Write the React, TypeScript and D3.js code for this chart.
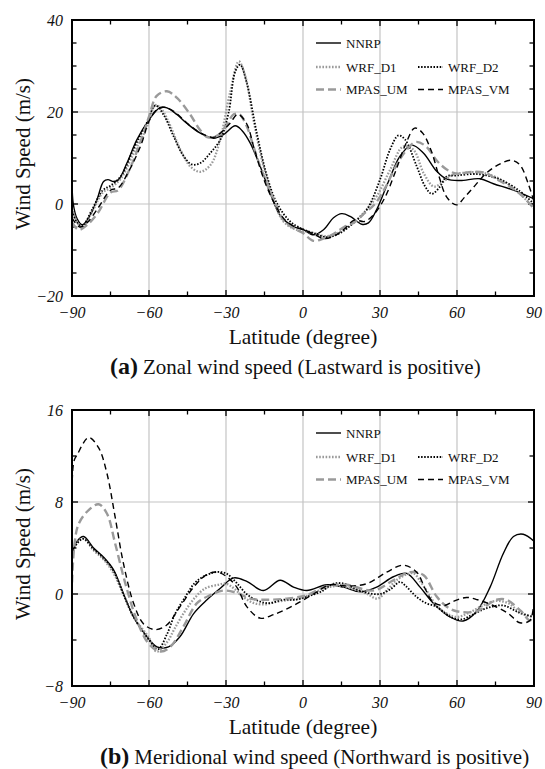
import React from "react";
import * as d3 from "d3";

type Pt = [number, number];

// ---- Zonal wind (panel a) : [latitude, m/s]
const zonalNNRP: Pt[] = [[-90,5],[-89.5,0],[-88,-3.2],[-86,-4.5],[-83,-2.5],[-80.3,0.9],[-77.7,4.9],[-76,5.3],[-73.8,4.9],[-71.8,5.3],[-68.6,8.9],[-64.7,14],[-60,18.3],[-55.6,21],[-53,20.9],[-49,19.4],[-45.2,17.5],[-40,15.4],[-34.8,14.3],[-31,15.1],[-26.4,17],[-23.8,16],[-20.6,13.3],[-16.7,8.2],[-12.8,2.4],[-8.9,-2.5],[-3.7,-4.9],[0.2,-5.6],[4.1,-6.7],[8,-5.6],[11.9,-3],[15.1,-2.1],[18.4,-2.7],[22.9,-4.4],[25.5,-4.1],[28.7,-1.2],[33.3,4.9],[37.8,10.4],[42.4,12.8],[46.9,11.1],[52.1,7.1],[56,5.4],[61.2,5.1],[69,5.5],[74.2,4.4],[82,3],[90,1.1]];
const zonalWRFD1: Pt[] = [[-90,-1],[-88,-4],[-86,-5],[-82,-1.5],[-78,2.5],[-75,3.5],[-71,5.5],[-66,11],[-61,16.5],[-57.5,21.5],[-55,20.5],[-51.7,17],[-47.5,11.5],[-43.6,8],[-40,7],[-36,8.5],[-32.5,13.5],[-28.5,24],[-25,31],[-22.5,27.8],[-19.3,18.3],[-15.4,8.2],[-11.5,0.9],[-7.6,-3.8],[-3,-5.5],[4,-6.3],[9.3,-7],[15.8,-5.6],[22.3,-2.7],[28.7,1.7],[34,7.5],[39,12.5],[43,11.8],[47,6.7],[51,3.8],[54.7,4.9],[58.6,6.4],[63,6.8],[70,6.8],[78,5],[85,2],[90,-1]];
const zonalWRFD2: Pt[] = [[-90,-1.5],[-88,-4],[-86,-4.8],[-82,-1],[-78,3],[-75,4],[-71,6],[-66,12],[-61,17.5],[-57.5,21.4],[-54.3,19.4],[-50.4,14.7],[-46.5,10.4],[-43.3,8.6],[-40,8.9],[-36.1,11.1],[-32.2,14],[-29,19.8],[-26.4,28.8],[-24.5,30.3],[-21.9,26.3],[-18,15.4],[-14,6],[-10.2,0.2],[-5,-3.8],[0,-5.5],[4,-6.3],[9.3,-7.2],[14.5,-6.3],[19.7,-4.1],[24.9,-1.2],[30,5.3],[33.9,11.8],[37.2,14.9],[39.8,14],[44.3,8.2],[47.6,3.8],[50.2,2.2],[53.4,3.8],[56,6],[60,6.2],[68,6.5],[76,5.5],[84,3],[90,0]];
const zonalMPASUM: Pt[] = [[-90,-4],[-87.4,-5.6],[-84,-4.5],[-80,-2],[-75,2.5],[-72,3],[-68,7],[-63,14],[-60,19],[-57,23.5],[-53,24.5],[-49,23],[-44,19.5],[-40,16],[-37,14.5],[-33,15],[-30,17],[-27,19.5],[-24.8,19.5],[-22,17],[-19,12],[-15,5.5],[-11,0.5],[-7.6,-3.5],[-3,-5.5],[0,-6.3],[4,-8],[8,-7.5],[12,-6.5],[16,-5],[20,-4],[24,-2],[28,0],[32,3.5],[36,8],[40,11.5],[44,13.5],[48,12.5],[52,9.5],[56,7.5],[60,6.6],[66,7],[71.5,6.7],[75,5.5],[80,4],[85,2],[90,-1]];
const zonalMPASVM: Pt[] = [[-90,-3],[-87,-5],[-84,-4],[-80,-1],[-75,3],[-72,3.5],[-68,7],[-63,13],[-60,18],[-57,20.5],[-54,21],[-50,20],[-45,17.5],[-40,15.5],[-35,14.5],[-32,15.5],[-28.5,17.5],[-25.4,19.5],[-22,17.5],[-19,12],[-15,5],[-11,0],[-7,-3.5],[-3,-5],[0,-5.5],[4,-6.5],[8,-7.5],[12,-7],[16,-5.5],[20,-3.5],[24,-3.8],[28,-2],[32,1.5],[36,7],[40,13],[43.5,16.5],[46.5,15.5],[50,11.5],[53,6],[56,1.5],[59.8,-0.2],[63,1.5],[67,4],[71,6.5],[76,8.5],[81,9.5],[84.5,8.5],[88,4],[90,0.5]];

// ---- Meridional wind (panel b) : [latitude, m/s]
const meridNNRP: Pt[] = [[-90,3.5],[-88,4.6],[-85.5,5],[-81.6,4],[-77.7,3.2],[-73.8,2.1],[-69.9,0],[-66,-2],[-60.8,-3.7],[-56.9,-4.6],[-52.4,-4.6],[-47.9,-3.7],[-42.6,-1.7],[-37.4,-0.5],[-32.2,0.5],[-27,1.4],[-21.9,1.1],[-15.4,0.3],[-8.9,1.2],[-3.7,0.6],[1.5,0.3],[9.3,0.8],[15.8,0.6],[22.3,0.2],[28.7,0.6],[35.2,1.5],[40.4,1.8],[45.6,0.6],[50.8,-0.8],[57.3,-2],[62.4,-2.35],[67.7,-1.5],[72.9,0.6],[78,3.5],[82,5],[85.8,5.2],[90,4.6]];
const meridWRFD1: Pt[] = [[-90,3.5],[-88,4.5],[-85.5,4.8],[-81.6,3.8],[-77.7,3],[-73.8,1.8],[-70,0],[-66,-2],[-60,-3.8],[-57,-5],[-53,-4.2],[-50,-3],[-46,-1.5],[-42,-0.3],[-38,0.5],[-33,0.8],[-30,0.9],[-27,0.5],[-23,-0.3],[-19,-0.8],[-15,-0.9],[-11,-0.7],[-5,-0.5],[0,-0.3],[5,0.2],[10,0.6],[15,0.7],[20,0.4],[25,0],[29,-0.4],[33,0.4],[37,1.3],[42.9,1.8],[46,1],[49,0],[52,-1],[56,-1.7],[60,-2],[65,-1.6],[70,-1],[75,-0.6],[80,-0.8],[85,-1.7],[90,-2]];
const meridWRFD2: Pt[] = [[-90,3.5],[-88,4.4],[-85.5,4.8],[-81.6,3.9],[-77.7,3.1],[-73.8,2],[-70,0],[-66,-2],[-60,-4],[-56.5,-4.8],[-53,-3.5],[-50,-1.8],[-46,-0.3],[-42,1],[-38,1.6],[-34,1.9],[-30,1.8],[-26,1],[-22,0],[-17.5,-0.6],[-13,-0.8],[-8,-0.5],[-3,-0.5],[2,-0.2],[7,0.2],[12,0.9],[16,0.9],[20,0.5],[25,0.1],[30,0],[34,0.4],[37.8,1.05],[40,0.7],[44,-0.2],[48,-0.8],[52,-1.1],[55,-1.6],[58.5,-2.1],[62,-2.2],[66,-1.8],[72,-1.2],[78,-1],[84,-1.6],[90,-2]];
const meridMPASUM: Pt[] = [[-90,1],[-89,4.4],[-87.4,6.1],[-83.5,7.3],[-79.6,7.8],[-76.4,7],[-73.2,4.4],[-69.2,0.9],[-64.7,-2.3],[-60.2,-4.3],[-55.6,-5],[-51.7,-4.6],[-46.5,-2.8],[-41.3,-0.8],[-36.1,-0.1],[-31,0.3],[-25.8,0.1],[-20.6,-0.4],[-14.1,-0.5],[-6.3,-0.4],[1.5,-0.1],[9.3,0.7],[17.1,0.8],[27.4,0.3],[35.2,1.2],[41.7,1.9],[46.9,1.65],[52,-0.2],[56,-1.1],[59.8,-1.5],[67.6,-1.5],[75.4,-0.5],[79.3,-0.5],[85,-1.5],[88.4,-2.3],[90,-1.5]];
const meridMPASVM: Pt[] = [[-90,2],[-89.3,11.5],[-88,12.1],[-83.5,13.6],[-79.6,12.7],[-76.4,10.5],[-73.2,6.7],[-70,2.7],[-66,-0.8],[-62.1,-2.6],[-57.6,-3.1],[-53.1,-2.7],[-47.9,-1.1],[-42.6,0.6],[-37.4,1.7],[-33.5,1.9],[-29.7,1.5],[-25.8,0.6],[-21.9,-1.1],[-16.7,-2.1],[-11.5,-1.8],[-3.7,-1],[4.1,0],[10.6,0.8],[17.1,0.7],[24.9,0.9],[32.6,1.9],[39.1,2.5],[44.3,1.9],[47.5,0.5],[50.7,-0.7],[55,-1],[59,-0.6],[63.7,-0.3],[68,-0.5],[74.1,-1],[80,-1.7],[84.5,-2.5],[88.4,-2.3],[90,-0.5]];

const seriesNames = ["NNRP", "WRF_D1", "WRF_D2", "MPAS_UM", "MPAS_VM"];
const xMajorTicks = [-90, -60, -30, 0, 30, 60, 90];
const zonalYTicks = [-20, 0, 20, 40];
const meridYTicks = [-8, 0, 8, 16];

const styles: Record<string, { stroke: string; width: number; dash: string | undefined }> = {
  NNRP: { stroke: "#000", width: 1.4, dash: undefined },
  WRF_D1: { stroke: "#9a9a9a", width: 2.3, dash: "1.6 1.6" },
  WRF_D2: { stroke: "#000", width: 1.8, dash: "1.5 1.6" },
  MPAS_UM: { stroke: "#9a9a9a", width: 2.4, dash: "8 4" },
  MPAS_VM: { stroke: "#000", width: 1.4, dash: "6 4" },
};

const FONT = "'Liberation Serif', 'Times New Roman', serif";
const W = 545, H = 769;
const left = 72, right = 534;

function fmt(v: number) {
  return v < 0 ? "\u2212" + Math.abs(v) : String(v);
}

interface PanelProps {
  top: number;
  bottom: number;
  yDomain: [number, number];
  yMajor: number[];
  yMinorStep: number;
  data: Record<string, Pt[]>;
  id: string;
  letter: string;
  caption: string;
  captionX: number;
}

function Panel({ top, bottom, yDomain, yMajor, yMinorStep, data, id, letter, caption, captionX }: PanelProps) {
  const x = d3.scaleLinear().domain([-90, 90]).range([left, right]);
  const y = d3.scaleLinear().domain(yDomain).range([bottom, top]);
  const xMinor = d3.range(-90, 90.01, 15);
  const yMinor = d3.range(yDomain[0], yDomain[1] + 0.01, yMinorStep);
  const line = d3
    .line<Pt>()
    .x((d) => x(d[0]))
    .y((d) => y(d[1]))
    .curve(d3.curveCatmullRom.alpha(0.5));
  const isMajorX = (v: number) => xMajorTicks.includes(v);
  const isMajorY = (v: number) => yMajor.includes(v);

  const legendRows: { name: string; col: number; row: number }[] = [
    { name: "NNRP", col: 0, row: 0 },
    { name: "WRF_D1", col: 0, row: 1 },
    { name: "WRF_D2", col: 1, row: 1 },
    { name: "MPAS_UM", col: 0, row: 2 },
    { name: "MPAS_VM", col: 1, row: 2 },
  ];
  const colX = [316, 418];
  const rowY = [top + 23, top + 47, top + 69.5];

  return (
    <g>
      <defs>
        <clipPath id={"clip" + id}>
          <rect x={left} y={top} width={right - left} height={bottom - top} />
        </clipPath>
      </defs>
      {xMajorTicks.slice(1, -1).map((v) => (
        <line key={"gx" + v} x1={x(v)} x2={x(v)} y1={top} y2={bottom} stroke="#c4c4c4" strokeWidth={1.2} />
      ))}
      {yMajor
        .filter((v) => v !== yDomain[0] && v !== yDomain[1])
        .map((v) => (
          <line key={"gy" + v} x1={left} x2={right} y1={y(v)} y2={y(v)} stroke="#c4c4c4" strokeWidth={1.2} />
        ))}
      {xMinor.map((v) => {
        const len = isMajorX(v) ? 6 : 4.5;
        return (
          <g key={"tx" + v}>
            <line x1={x(v)} x2={x(v)} y1={top} y2={top + len} stroke="#000" strokeWidth={1.3} />
            <line x1={x(v)} x2={x(v)} y1={bottom} y2={bottom - len} stroke="#000" strokeWidth={1.3} />
          </g>
        );
      })}
      {yMinor.map((v) => {
        const len = isMajorY(v) ? 6 : 4.5;
        return (
          <g key={"ty" + v}>
            <line x1={left} x2={left + len} y1={y(v)} y2={y(v)} stroke="#000" strokeWidth={1.3} />
            <line x1={right} x2={right - len} y1={y(v)} y2={y(v)} stroke="#000" strokeWidth={1.3} />
          </g>
        );
      })}
      <g clipPath={`url(#clip${id})`}>
        {seriesNames.map((n) => {
          const s = styles[n];
          return (
            <path
              key={n}
              d={line(data[n]) || ""}
              fill="none"
              stroke={s.stroke}
              strokeWidth={s.width}
              strokeDasharray={s.dash}
              strokeLinejoin="round"
            />
          );
        })}
      </g>
      <rect x={left} y={top} width={right - left} height={bottom - top} fill="none" stroke="#000" strokeWidth={2} />
      {legendRows.map((r) => {
        const s = styles[r.name];
        const lx = colX[r.col];
        const ly = rowY[r.row];
        return (
          <g key={"lg" + r.name}>
            <line x1={lx} x2={lx + 25} y1={ly} y2={ly} stroke={s.stroke} strokeWidth={s.width} strokeDasharray={s.dash} />
            <text x={lx + 30} y={ly + 4.5} fontFamily={FONT} fontSize={13} fill="#111">
              {r.name}
            </text>
          </g>
        );
      })}
      {xMajorTicks.map((v) => (
        <text key={"xl" + v} x={x(v)} y={bottom + 22} textAnchor="middle" fontFamily={FONT} fontStyle="italic" fontSize={16} fill="#111">
          {fmt(v)}
        </text>
      ))}
      {yMajor.map((v) => (
        <text key={"yl" + v} x={left - 9} y={y(v) + 5.5} textAnchor="end" fontFamily={FONT} fontStyle="italic" fontSize={16} fill="#111">
          {fmt(v)}
        </text>
      ))}
      <text x={(left + right) / 2} y={bottom + 48} textAnchor="middle" fontFamily={FONT} fontSize={21.5} fill="#111">
        Latitude (degree)
      </text>
      <text
        transform={`translate(30,${(top + bottom) / 2 - 4}) rotate(-90)`}
        textAnchor="middle"
        fontFamily={FONT}
        fontSize={21}
        fill="#111"
      >
        Wind Speed (m/s)
      </text>
      <text x={captionX} y={bottom + 78} fontFamily={FONT} fill="#111">
        <tspan fontWeight="bold" fontSize={24}>{letter}</tspan>
        <tspan fontSize={21} dx={5}>{caption}</tspan>
      </text>
    </g>
  );
}

export default function App() {
  return (
    <svg width={W} height={H} style={{ position: "absolute", left: 0, top: 0, background: "#fff" }}>
      <rect x={0} y={0} width={W} height={H} fill="#fff" />
      <Panel
        id="a"
        top={20}
        bottom={296}
        yDomain={[-20, 40]}
        yMajor={zonalYTicks}
        yMinorStep={5}
        data={{ NNRP: zonalNNRP, WRF_D1: zonalWRFD1, WRF_D2: zonalWRFD2, MPAS_UM: zonalMPASUM, MPAS_VM: zonalMPASVM }}
        letter="(a)"
        caption="Zonal wind speed (Lastward is positive)"
        captionX={110}
      />
      <Panel
        id="b"
        top={410}
        bottom={686}
        yDomain={[-8, 16]}
        yMajor={meridYTicks}
        yMinorStep={4}
        data={{ NNRP: meridNNRP, WRF_D1: meridWRFD1, WRF_D2: meridWRFD2, MPAS_UM: meridMPASUM, MPAS_VM: meridMPASVM }}
        letter="(b)"
        caption="Meridional wind speed (Northward is positive)"
        captionX={100}
      />
    </svg>
  );
}
